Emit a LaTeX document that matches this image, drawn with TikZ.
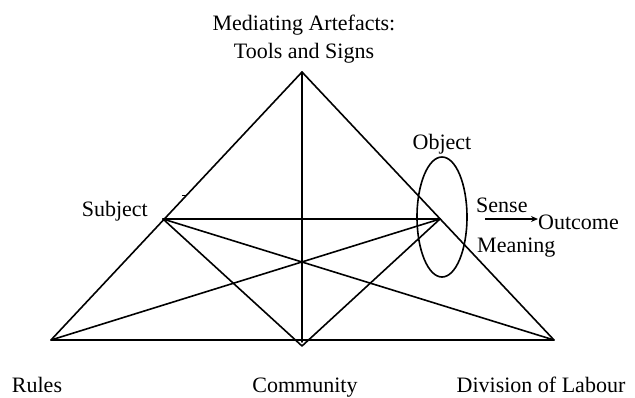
\documentclass[tikz,border=0pt]{standalone}
\usepackage{fontspec}
\setmainfont{Liberation Serif}
\usetikzlibrary{arrows.meta,shapes.geometric}
\begin{document}
\begin{tikzpicture}[x=1pt,y=-1pt,
  edge/.style={line width=1.6pt, line cap=round, line join=round},
  lbl/.style={inner sep=0pt, font=\fontsize{22}{28}\selectfont}]
\useasboundingbox (0,0) rectangle (635,397);
% points
\coordinate (A) at (302,72);
\coordinate (BL) at (51,340);
\coordinate (BR) at (554,340);
\coordinate (S) at (163,219);
\coordinate (O) at (440,219);
\coordinate (C) at (302,346);
\coordinate (Cm) at (302,342);
\coordinate (t1) at (182,195.5);
\coordinate (t2) at (187,195.5);
% triangle
\draw[edge] (BL) -- (A) -- (BR) -- cycle;
\draw[edge] (A) -- (Cm);
\draw[edge] (S) -- (O);
\draw[edge] (S) -- (BR);
\draw[edge] (O) -- (BL);
\draw[edge] (S) -- (C) -- (O);
\draw[line width=1pt] (t1) -- (t2);
% ellipse
\node[draw, line width=1.6pt, ellipse, minimum width=50pt, minimum height=120pt, inner sep=0pt] (ell) at (442,217) {};
% labels
\node[lbl, align=center] (med) at (304,39) {Mediating Artefacts:\\Tools and Signs};
\node[lbl, anchor=base east] (subj) at (148,216) {Subject};
\node[lbl, anchor=base] (obj) at (442,149) {Object};
\node[lbl, anchor=base west] (sense) at (476,212) {Sense};
\node[lbl, anchor=base west] (out) at (538,229) {Outcome};
\node[lbl, anchor=base west] (mean) at (477,252) {Meaning};
\node[lbl, anchor=base] (rules) at (37,392) {Rules};
\node[lbl, anchor=base] (comm) at (305,392) {Community};
\node[lbl, anchor=base] (div) at (541,392) {Division of Labour};
\coordinate (ar1) at (485,219);
\draw[line width=1.6pt, -{Stealth[length=7pt,width=6pt]}] (ar1) -- (out.west |- ar1);
\end{tikzpicture}
\end{document}
